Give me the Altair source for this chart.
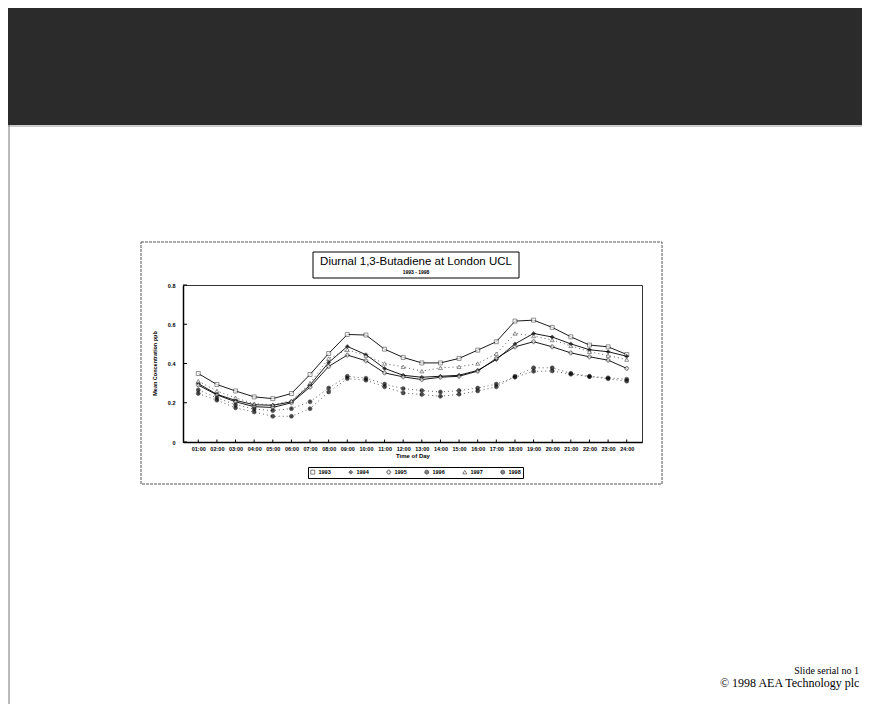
import altair as alt
import pandas as pd

hours = ["01:00", "02:00", "03:00", "04:00", "05:00", "06:00", "07:00", "08:00",
         "09:00", "10:00", "11:00", "12:00", "13:00", "14:00", "15:00", "16:00",
         "17:00", "18:00", "19:00", "20:00", "21:00", "22:00", "23:00", "24:00"]
years = ["1993", "1994", "1995", "1996", "1997", "1998"]
solid_years = ["1993", "1994", "1995"]
dotted_years = ["1996", "1997", "1998"]

s1993 = [0.349, 0.293, 0.260, 0.230, 0.221, 0.247, 0.344, 0.451, 0.548, 0.545, 0.473, 0.431,
         0.403, 0.403, 0.426, 0.468, 0.511, 0.616, 0.621, 0.584, 0.536, 0.494, 0.485, 0.446]
s1994 = [0.298, 0.243, 0.212, 0.190, 0.187, 0.205, 0.290, 0.405, 0.487, 0.445, 0.375, 0.340,
         0.330, 0.335, 0.340, 0.365, 0.420, 0.500, 0.553, 0.535, 0.500, 0.470, 0.460, 0.437]
s1995 = [0.290, 0.240, 0.205, 0.180, 0.176, 0.200, 0.280, 0.385, 0.443, 0.414, 0.352, 0.332,
         0.318, 0.330, 0.335, 0.361, 0.426, 0.485, 0.511, 0.485, 0.454, 0.434, 0.417, 0.375]
s1996 = [0.247, 0.213, 0.174, 0.153, 0.131, 0.131, 0.170, 0.255, 0.323, 0.315, 0.281, 0.250,
         0.242, 0.233, 0.243, 0.260, 0.281, 0.335, 0.378, 0.378, 0.350, 0.335, 0.327, 0.320]
s1997 = [0.310, 0.260, 0.225, 0.195, 0.190, 0.210, 0.300, 0.425, 0.470, 0.440, 0.400, 0.383,
         0.361, 0.378, 0.383, 0.400, 0.450, 0.553, 0.540, 0.520, 0.490, 0.460, 0.440, 0.420]
s1998 = [0.265, 0.225, 0.190, 0.168, 0.160, 0.170, 0.205, 0.275, 0.335, 0.325, 0.295, 0.272,
         0.262, 0.255, 0.262, 0.275, 0.295, 0.330, 0.360, 0.362, 0.345, 0.333, 0.322, 0.310]
y_ticks = [0, 0.2, 0.4, 0.6, 0.8]

title_text = "Diurnal 1,3-Butadiene at London UCL"
subtitle_text = "1993 - 1998"
footer1 = "Slide serial no 1"
footer2 = "\u00a9 1998 AEA Technology plc"

series = [s1993, s1994, s1995, s1996, s1997, s1998]
rows = []
for yr, vals in zip(years, series):
    for h, v in zip(hours, vals):
        rows.append({"Hour": h, "Value": v, "Year": yr})
df = pd.DataFrame(rows)

W, H = 459, 157
FONT = "Liberation Sans"

xenc = alt.X("Hour:O", sort=hours,
             scale=alt.Scale(type="point", padding=0.82),
             axis=alt.Axis(title="Time of Day", labelAngle=0, labelFontSize=5.5,
                           labelFontWeight="bold", labelFont=FONT, ticks=False,
                           labelPadding=4, titleFontSize=6, titleFont=FONT,
                           titleFontWeight="bold", titlePadding=1, labelOverlap=False,
                           domainColor="black", domainWidth=1.5))
yenc = alt.Y("Value:Q", scale=alt.Scale(domain=[0, 0.8], nice=False),
             axis=alt.Axis(title="Mean Concentration ppb", values=y_ticks, format="~g",
                           labelFontSize=5.5, labelFontWeight="bold", labelFont=FONT,
                           ticks=False, labelPadding=8, labelOverlap=False,
                           labelBound=False, titleFontSize=5.5,
                           titleFont=FONT, titleFontWeight="bold", titleX=-26,
                           titleY=78, domainColor="black", domainWidth=1.5))

base = alt.Chart(df)

lines_solid = base.transform_filter(
    alt.FieldOneOfPredicate(field="Year", oneOf=solid_years)
).mark_line(color="black", strokeWidth=0.9).encode(x=xenc, y=yenc, detail="Year:N")

lines_dotted = base.transform_filter(
    alt.FieldOneOfPredicate(field="Year", oneOf=dotted_years)
).mark_line(color="#333333", strokeWidth=0.8, strokeDash=[1, 3]).encode(
    x=xenc, y=yenc, detail="Year:N")

leg = alt.Legend(title=None, orient="none", legendX=125, legendY=182,
                 direction="horizontal", labelFontSize=5.5, labelFont=FONT,
                 labelFontWeight="bold", strokeColor="black", padding=2,
                 columnPadding=16, labelOffset=3, symbolStrokeWidth=0.7)

points = base.mark_point(filled=True, strokeWidth=0.6).encode(
    x=xenc, y=yenc,
    shape=alt.Shape("Year:N", legend=leg,
                    scale=alt.Scale(domain=years,
                                    range=["square", "diamond", "cross", "circle", "triangle-up", "circle"])),
    fill=alt.Fill("Year:N", legend=leg,
                  scale=alt.Scale(domain=years,
                                  range=["white", "black", "white", "black", "white", "black"])),
    stroke=alt.Stroke("Year:N", legend=leg,
                      scale=alt.Scale(domain=years,
                                      range=["black", "black", "black", "black", "black", "black"])),
    size=alt.Size("Year:N", legend=leg,
                  scale=alt.Scale(domain=years, range=[16, 16, 16, 3, 16, 3])),
)

yticks = alt.Chart(pd.DataFrame({"Value": y_ticks})).mark_rule(
    color="black", strokeWidth=1).encode(y=yenc, x=alt.value(0), x2=alt.value(4))

xticks = alt.Chart(pd.DataFrame({"Hour": hours})).mark_rule(
    color="black", strokeWidth=1).encode(x=xenc, y=alt.value(H), y2=alt.value(H - 2.5))

one = pd.DataFrame({"k": [0]})

band = alt.Chart(one).mark_rect(color="#2b2b2b").encode(
    x=alt.value(-175), x2=alt.value(680), y=alt.value(-277), y2=alt.value(-160))
band_edge = alt.Chart(one).mark_rule(color="#999999", strokeWidth=1).encode(
    x=alt.value(-175), x2=alt.value(680), y=alt.value(-159))
left_line = alt.Chart(one).mark_rule(color="#777777", strokeWidth=1).encode(
    x=alt.value(-174), y=alt.value(-160), y2=alt.value(440))
frame = alt.Chart(one).mark_rect(fillOpacity=0, stroke="#555555", strokeWidth=1,
                                 strokeDash=[3, 1]).encode(
    x=alt.value(-42), x2=alt.value(479), y=alt.value(-43), y2=alt.value(199))
title_box = alt.Chart(one).mark_rect(fill="white", stroke="black", strokeWidth=1).encode(
    x=alt.value(130), x2=alt.value(336), y=alt.value(-33), y2=alt.value(-7))

title = alt.Chart(pd.DataFrame({"t": [title_text]})).mark_text(
    font=FONT, fontSize=11.5, color="black").encode(
    text="t:N", x=alt.value(233), y=alt.value(-23))
subtitle = alt.Chart(pd.DataFrame({"t": [subtitle_text]})).mark_text(
    font=FONT, fontSize=5, fontWeight="bold", color="black").encode(
    text="t:N", x=alt.value(233), y=alt.value(-13))

f1 = alt.Chart(pd.DataFrame({"t": [footer1]})).mark_text(
    font="Liberation Serif", fontSize=10, color="black", align="right").encode(
    text="t:N", x=alt.value(676), y=alt.value(386))
f2 = alt.Chart(pd.DataFrame({"t": [footer2]})).mark_text(
    font="Liberation Serif", fontSize=12, color="black", align="left").encode(
    text="t:N", x=alt.value(537), y=alt.value(398))

chart = alt.layer(
    band, band_edge, left_line, frame, title_box, title, subtitle,
    lines_solid, lines_dotted, points, yticks, xticks, f1, f2
).properties(
    width=W, height=H,
    padding={"left": 175, "top": 277, "right": 220, "bottom": 262},
    autosize=alt.AutoSizeParams(type="none"),
    background="white",
).configure_view(
    stroke="#333333", strokeWidth=1
).configure_axis(
    grid=False
)

chart.save("out.html", embed_options={"renderer": "svg", "actions": False})
